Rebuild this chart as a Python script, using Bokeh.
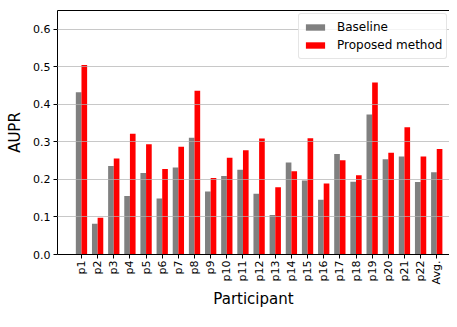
import math
from bokeh.plotting import figure
from bokeh.models import (Range1d, FixedTicker, LinearAxis, Legend, LegendItem,
                          ColumnDataSource, NumeralTickFormatter)
from bokeh.transform import dodge
from bokeh.embed import file_html
from bokeh.resources import INLINE

participants = ["p1", "p2", "p3", "p4", "p5", "p6", "p7", "p8", "p9", "p10", "p11",
                "p12", "p13", "p14", "p15", "p16", "p17", "p18", "p19", "p20", "p21",
                "p22", "Avg."]
baseline = [0.432, 0.082, 0.236, 0.156, 0.217, 0.149, 0.232, 0.311, 0.168, 0.209, 0.226,
            0.162, 0.105, 0.245, 0.197, 0.146, 0.268, 0.194, 0.373, 0.254, 0.261,
            0.193, 0.219]
proposed = [0.505, 0.098, 0.256, 0.322, 0.294, 0.228, 0.287, 0.436, 0.204, 0.258, 0.278,
            0.309, 0.179, 0.222, 0.310, 0.189, 0.251, 0.211, 0.458, 0.271, 0.339,
            0.261, 0.281]
y_ticks = [0.0, 0.1, 0.2, 0.3, 0.4, 0.5, 0.6]

FONT = "DejaVu Sans"
BAR_W = 0.35
H = 311
TOP = 10
BOTTOM = 56

idx = list(range(len(participants)))
src = ColumnDataSource(dict(x=idx, baseline=baseline, proposed=proposed))

p = figure(width=449, height=H, output_backend="svg", toolbar_location=None,
           x_range=Range1d(-1.485, 22.79), y_range=Range1d(0, 0.65),
           min_border_left=57, min_border_right=0, min_border_top=TOP,
           min_border_bottom=BOTTOM)
p.outline_line_color = None
p.background_fill_color = "white"

r1 = p.vbar(x=dodge("x", -BAR_W / 2), top="baseline", width=BAR_W, source=src,
            fill_color="#808080", line_color=None)
r2 = p.vbar(x=dodge("x", BAR_W / 2), top="proposed", width=BAR_W, source=src,
            fill_color="#ff0000", line_color=None)

xa = p.xaxis[0]
xa.ticker = FixedTicker(ticks=idx)
xa.major_label_overrides = {i: s for i, s in zip(idx, participants)}
xa.major_label_orientation = math.pi / 2
xa.axis_label = "Participant"

ya = p.yaxis[0]
ya.ticker = FixedTicker(ticks=y_ticks)
ya.formatter = NumeralTickFormatter(format="0.0")
ya.axis_label = "AUPR"

for ax in (xa, ya):
    ax.axis_line_color = "black"
    ax.major_tick_line_color = "black"
    ax.major_tick_out = 4
    ax.major_tick_in = 0
    ax.minor_tick_line_color = None
    ax.major_label_text_font = FONT
    ax.major_label_text_font_size = "11px"
    ax.major_label_text_color = "black"
    ax.axis_label_text_font = FONT
    ax.axis_label_text_font_size = "15px"
    ax.axis_label_text_font_style = "normal"
    ax.axis_label_text_color = "black"
xa.major_label_standoff = 2
xa.axis_label_standoff = 3
ya.major_label_standoff = 3
ya.axis_label_standoff = 6

top = LinearAxis(ticker=FixedTicker(ticks=[]), axis_line_color="black",
                 major_tick_line_color=None, minor_tick_line_color=None)
p.add_layout(top, "above")

p.xgrid.grid_line_color = None
p.ygrid.ticker = FixedTicker(ticks=y_ticks)
p.ygrid.grid_line_color = "#b0b0b0"
p.ygrid.grid_line_alpha = 0.7
p.ygrid.grid_line_width = 1
p.ygrid.level = "guide"

frame_h = H - TOP - BOTTOM
legend = Legend(items=[LegendItem(label="Baseline", renderers=[r1]),
                       LegendItem(label="Proposed method", renderers=[r2])],
                location=(241, frame_h - 50))
legend.label_text_font = FONT
legend.label_text_font_size = "12px"
legend.label_text_color = "black"
legend.glyph_width = 24
legend.glyph_height = 8
legend.label_height = 18
legend.label_standoff = 10
legend.spacing = 0
legend.padding = 4
legend.margin = 0
legend.border_line_color = "#cccccc"
legend.border_line_width = 1
legend.background_fill_alpha = 0.8
if "border_radius" in Legend.properties():
    legend.border_radius = 3
p.add_layout(legend)

open("out.html", "w").write(file_html(p, INLINE))
